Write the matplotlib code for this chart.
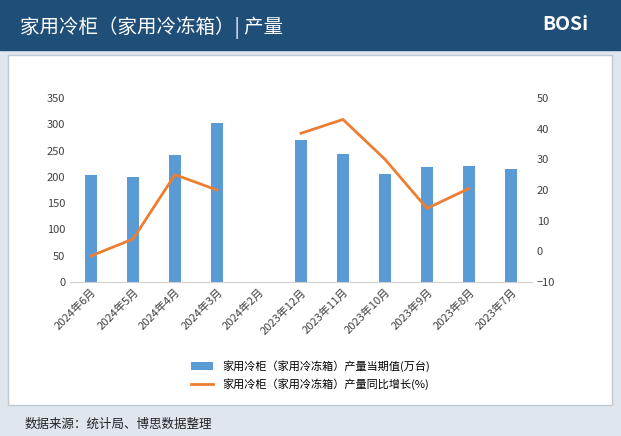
import matplotlib
matplotlib.use("Agg")
import matplotlib.pyplot as plt
import numpy as np
from matplotlib.patches import Rectangle

plt.rcParams['font.family'] = 'Noto Sans CJK SC'

categories = ["2024年6月","2024年5月","2024年4月","2024年3月","2024年2月","2023年12月","2023年11月","2023年10月","2023年9月","2023年8月","2023年7月"]
output = [204, 200, 241, 302, np.nan, 270, 243, 205, 219, 221, 215]
growth = [-1.5, 4, 25, 20, np.nan, 38.5, 43, 30, 14, 20.5, np.nan]

fig = plt.figure(figsize=(6.21, 4.36), dpi=100)
fig.patch.set_facecolor("#dfe6ee")
fig.add_artist(Rectangle((0, 1-50/436), 1, 50/436, transform=fig.transFigure, color="#1f4e79", zorder=0))
fig.text(20/621, 1-33/436, "家用冷柜（家用冷冻箱）| 产量", color="white", fontsize=14, va="baseline")
fig.text(565/621, 1-25/436, "BOSi", color="white", fontsize=14, fontweight="bold", ha="center", va="center")
fig.add_artist(Rectangle((8/621, 1-405/436), 604/621, 350/436, transform=fig.transFigure,
                         facecolor="white", edgecolor="#c0c8d0", zorder=0))
fig.text(25/621, 1-428/436, "数据来源：统计局、博思数据整理", fontsize=9, color="#222222", va="baseline")

ax = fig.add_axes([70/621, 1-282/436, 462/621, 184/436])
ax2 = ax.twinx()
x = np.arange(len(categories))
bars = ax.bar(x, output, width=0.3, color="#5b9bd5", label="家用冷柜（家用冷冻箱）产量当期值(万台)")
ln, = ax2.plot(x, growth, color="#ed7d31", lw=2, label="家用冷柜（家用冷冻箱）产量同比增长(%)")
ax.set_ylim(0, 350); ax.set_yticks(range(0, 351, 50))
ax2.set_ylim(-10, 50); ax2.set_yticks(range(-10, 51, 10))
ax.set_xlim(-0.5, len(categories)-0.5)
ax.set_xticks(x)
ax.set_xticklabels(categories, rotation=45, ha="right", rotation_mode="anchor", fontsize=8)
for a in (ax, ax2):
    for s in a.spines.values():
        s.set_visible(False)
    a.tick_params(length=0, labelsize=8, colors="#404040")
ax.spines['bottom'].set_visible(True); ax.spines['bottom'].set_color("#d0d0d0")
fig.legend(handles=[bars, ln], loc="center", bbox_to_anchor=(0.5, 1-375/436), ncol=1,
           frameon=False, fontsize=8)
fig.savefig("out.png", dpi=100)
